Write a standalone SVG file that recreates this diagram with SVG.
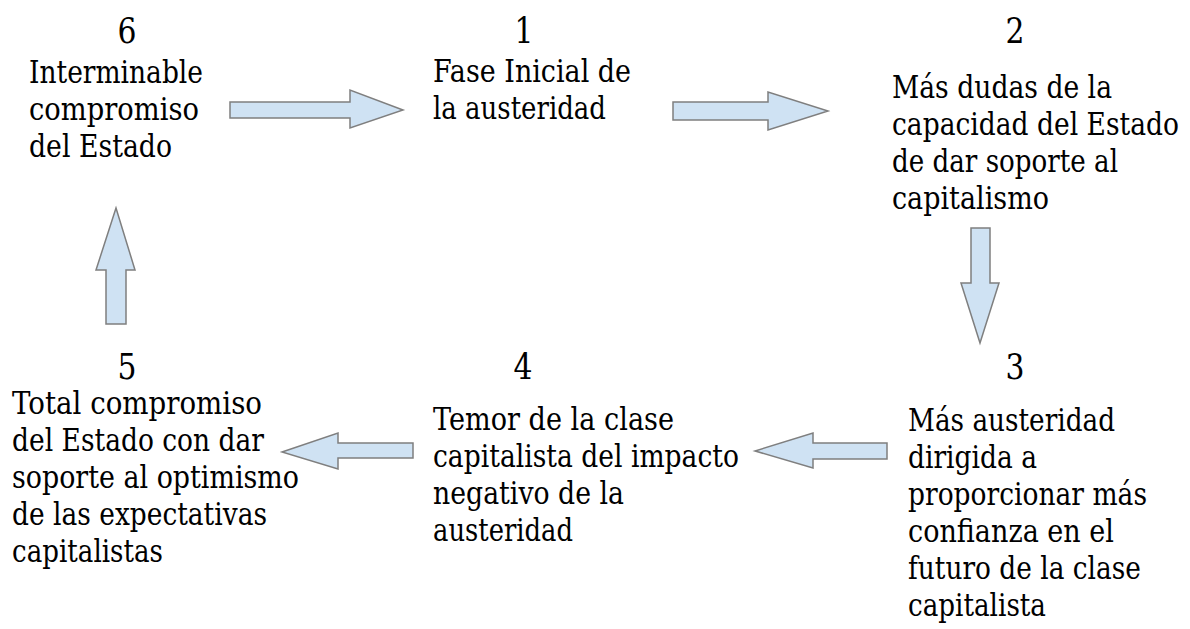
<svg xmlns="http://www.w3.org/2000/svg" width="1190" height="629" viewBox="0 0 1190 629">
<style>
.t{font-size:31.5px;fill:#000}
.n{font-size:35px;fill:#000;text-anchor:middle}
.a{fill:#cfe2f3;stroke:#7f7f7f;stroke-width:1.5;stroke-linejoin:miter}
</style>
<rect width="1190" height="629" fill="#fff"/>
<g font-family="'DejaVu Serif', 'Liberation Serif', serif">
<g id="node6">
<text class="n" x="127" y="43" textLength="19" lengthAdjust="spacingAndGlyphs">6</text>
<text class="t" x="29" y="83" textLength="174" lengthAdjust="spacingAndGlyphs">Interminable</text>
<text class="t" x="29" y="120" textLength="170" lengthAdjust="spacingAndGlyphs">compromiso</text>
<text class="t" x="29" y="157" textLength="143" lengthAdjust="spacingAndGlyphs">del Estado</text>
</g>
<g id="node1">
<text class="n" x="524" y="43" textLength="19" lengthAdjust="spacingAndGlyphs">1</text>
<text class="t" x="433" y="82" textLength="198" lengthAdjust="spacingAndGlyphs">Fase Inicial de</text>
<text class="t" x="433" y="119" textLength="173" lengthAdjust="spacingAndGlyphs">la austeridad</text>
</g>
<g id="node2">
<text class="n" x="1015" y="43" textLength="19" lengthAdjust="spacingAndGlyphs">2</text>
<text class="t" x="892" y="98" textLength="220" lengthAdjust="spacingAndGlyphs">Más dudas de la</text>
<text class="t" x="892" y="135" textLength="287" lengthAdjust="spacingAndGlyphs">capacidad del Estado</text>
<text class="t" x="892" y="172" textLength="226" lengthAdjust="spacingAndGlyphs">de dar soporte al</text>
<text class="t" x="892" y="209" textLength="157" lengthAdjust="spacingAndGlyphs">capitalismo</text>
</g>
<g id="node3">
<text class="n" x="1015" y="379" textLength="19" lengthAdjust="spacingAndGlyphs">3</text>
<text class="t" x="908" y="431" textLength="207" lengthAdjust="spacingAndGlyphs">Más austeridad</text>
<text class="t" x="908" y="468" textLength="129" lengthAdjust="spacingAndGlyphs">dirigida a</text>
<text class="t" x="908" y="505" textLength="239" lengthAdjust="spacingAndGlyphs">proporcionar más</text>
<text class="t" x="908" y="542" textLength="206" lengthAdjust="spacingAndGlyphs">confianza en el</text>
<text class="t" x="908" y="579" textLength="233" lengthAdjust="spacingAndGlyphs">futuro de la clase</text>
<text class="t" x="908" y="616" textLength="138" lengthAdjust="spacingAndGlyphs">capitalista</text>
</g>
<g id="node4">
<text class="n" x="523" y="379" textLength="19" lengthAdjust="spacingAndGlyphs">4</text>
<text class="t" x="433" y="430" textLength="241" lengthAdjust="spacingAndGlyphs">Temor de la clase</text>
<text class="t" x="433" y="467" textLength="306" lengthAdjust="spacingAndGlyphs">capitalista del impacto</text>
<text class="t" x="433" y="504" textLength="191" lengthAdjust="spacingAndGlyphs">negativo de la</text>
<text class="t" x="433" y="541" textLength="140" lengthAdjust="spacingAndGlyphs">austeridad</text>
</g>
<g id="node5">
<text class="n" x="127" y="379" textLength="19" lengthAdjust="spacingAndGlyphs">5</text>
<text class="t" x="12" y="414" textLength="250" lengthAdjust="spacingAndGlyphs">Total compromiso</text>
<text class="t" x="12" y="451" textLength="252" lengthAdjust="spacingAndGlyphs">del Estado con dar</text>
<text class="t" x="12" y="488" textLength="287" lengthAdjust="spacingAndGlyphs">soporte al optimismo</text>
<text class="t" x="12" y="525" textLength="255" lengthAdjust="spacingAndGlyphs">de las expectativas</text>
<text class="t" x="12" y="562" textLength="151" lengthAdjust="spacingAndGlyphs">capitalistas</text>
</g>
</g>
<g id="connectors">
<polygon class="a" points="230,102 350,102 350,90 403,110 350,128 350,118 230,118"/>
<polygon class="a" points="673,102 768,102 768,92 828,111 768,130 768,120 673,120"/>
<polygon class="a" points="971,228 990,228 990,283 999,283 980,343 961,283 971,283"/>
<polygon class="a" points="887,443 813,443 813,433 755,451 813,468 813,459 887,459"/>
<polygon class="a" points="413,443 338,443 338,433 282,452 338,469 338,458 413,458"/>
<polygon class="a" points="106,324 106,270 96,270 116,208 135,270 126,270 126,324"/>
</g>
</svg>
